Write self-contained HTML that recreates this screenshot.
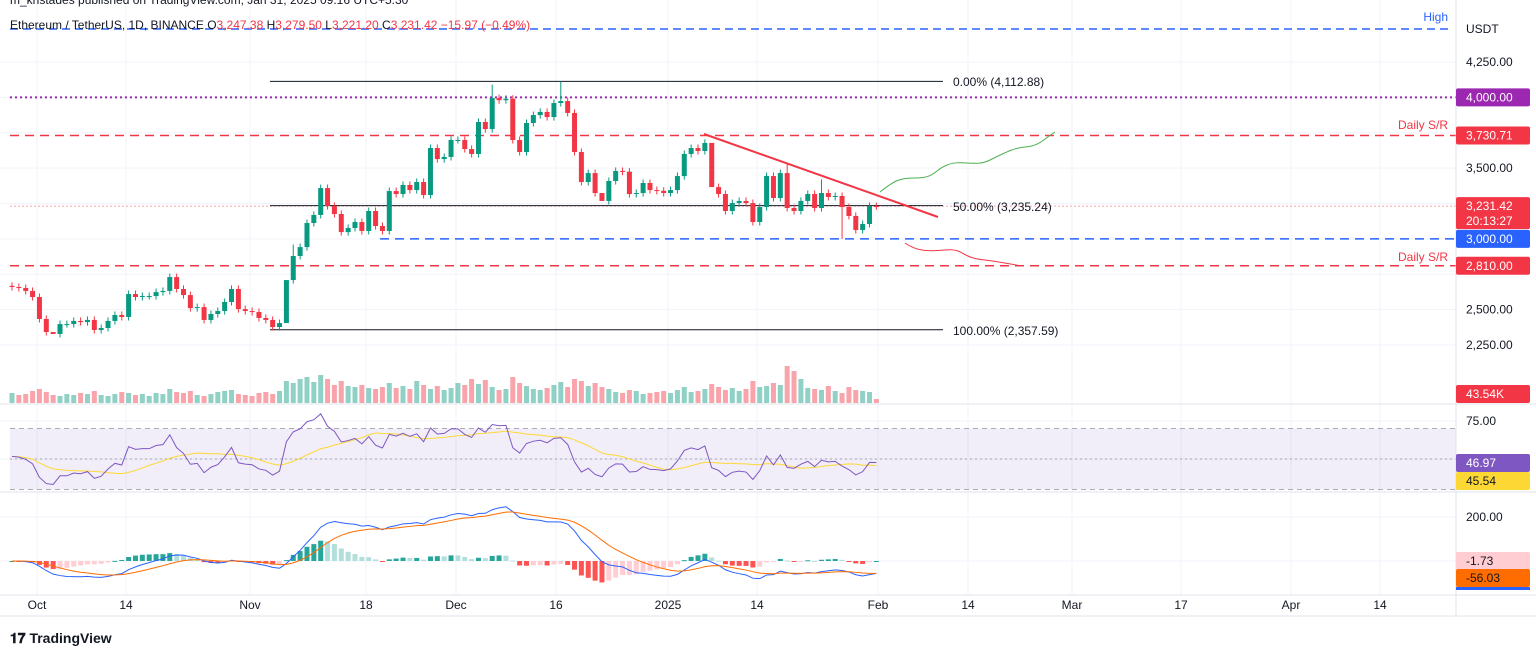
<!DOCTYPE html>
<html><head><meta charset="utf-8"><style>
body{margin:0;background:#fff;font-family:"Liberation Sans",sans-serif}
svg{display:block}
</style></head><body>
<svg id="c" width="1536" height="657" viewBox="0 0 1536 657" xmlns="http://www.w3.org/2000/svg" font-family="Liberation Sans, sans-serif">
<rect width="1536" height="657" fill="#fff"/>
<g id="grid"></g>
<g id="lv"></g>
<g id="vol"></g>
<g id="cnd"></g>
<g id="ov"></g>
<g id="rsi"></g>
<g id="macd"></g>
<g id="ax"></g>
<text x="10" y="4" font-size="12" fill="#131722">m_kristades published on TradingView.com, Jan 31, 2025 09:16 UTC+5:30</text>
<text x="10" y="29" font-size="12" fill="#131722">Ethereum / TetherUS, 1D, BINANCE <tspan fill="#131722">O</tspan><tspan fill="#f23645">3,247.38</tspan> H<tspan fill="#f23645">3,279.50</tspan> L<tspan fill="#f23645">3,221.20</tspan> C<tspan fill="#f23645">3,231.42 −15.97 (−0.49%)</tspan></text>
<text x="10" y="643" font-size="14" font-weight="bold" fill="#131722">𝟏𝟕 TradingView</text>
</svg>
<script>
const closes=[2660,2653,2632,2589,2434,2342,2328,2398,2398,2420,2412,2427,2356,2370,2420,2462,2448,2610,2589,2596,2596,2624,2632,2730,2646,2603,2511,2518,2427,2469,2490,2554,2646,2504,2490,2483,2441,2427,2377,2405,2709,2879,2942,
3112,3169,3359,3232,3176,3048,3077,3119,3056,3197,3091,3056,3338,3317,3381,3345,3402,3310,3642,3564,3579,3699,3699,3635,3600,3826,3776,3995,3980,3990,3699,3614,3819,3875,3897,3861,3960,3974,3890,3614,3402,3465,
3324,3268,3409,3480,3475,3317,3324,3395,3345,3340,3324,3345,3444,3600,3642,3621,3678,3366,3317,3197,3253,3268,3253,3119,3225,3444,3289,3465,3218,3197,3268,3317,3218,3324,3296,3303,3225,3162,3063,3105,3232,3231];
const volumes=[10,8,9,12,14,11,8,7,9,8,10,9,12,8,7,9,11,10,8,9,7,10,9,14,11,10,12,8,7,9,11,12,13,9,8,7,10,11,9,12,22,20,24,
26,21,28,24,18,22,17,16,18,15,14,16,20,15,17,14,22,18,14,17,13,15,20,18,24,19,23,16,13,14,26,20,17,14,13,15,18,21,16,24,22,17,
20,16,14,11,10,13,12,9,10,11,12,10,13,16,11,12,14,19,16,13,15,12,14,22,16,17,20,18,37,32,24,15,14,13,17,12,10,16,13,12,11,4];
const highOverrides={6:2307,40:2357,41:2960,70:4090,80:4112,86:3070,102:2907,113:3540,118:3420};
const lowOverrides={6:2307,40:2357,86:3070,102:2907,121:3000};
const timeLabels=[["Oct",37],["14",126],["Nov",250],["18",366],["Dec",456],["16",556],["2025",668],["14",757],["Feb",878],["14",968],["Mar",1072],["17",1181],["Apr",1291],["14",1380]];
const priceTicks=[4250,3500,2500,2250];

const NS="http://www.w3.org/2000/svg";
function mk(p,t,a){const e=document.createElementNS(NS,t);for(const k in a)e.setAttribute(k,a[k]);p.appendChild(e);return e;}
const X=i=>12+i*6.86;
const Y=p=>62+(4250-p)*0.1415;
const RY=r=>459-(r-50)*1.525;
const MY=v=>561-v*0.22;
const G=id=>document.getElementById(id);
const up="#089981",dn="#f23645";

const gg=G('grid');
timeLabels.forEach(t=>{const l=mk(gg,'line',{x1:t[1],x2:t[1],y1:0,y2:595,stroke:'#f0f3fa'});});
[4250,4000,3750,3500,3250,3000,2750,2500,2250].forEach(p=>{const l=mk(gg,'line',{x1:0,x2:1456,y1:Y(p),y2:Y(p),stroke:'#f0f3fa'});});
[421,459,517,561].forEach(y=>{const l=mk(gg,'line',{x1:0,x2:1456,y1:y,y2:y,stroke:'#f0f3fa'});});

const lv=G('lv');
function hl(y,x1,x2,col,dash,w,name){const l=mk(lv,'line',{x1:x1,x2:x2,y1:y,y2:y,stroke:col,'stroke-width':w,'stroke-dasharray':dash});}
hl(29,10,1452,'#2962ff','8 5',1.5,'high-line');
hl(Y(4000),10,1456,'#9c27b0','2 3',2,'level-4000');
hl(Y(3730.71),10,1456,'#f23645','9 6',1.5,'daily-sr-upper');
hl(Y(3231.42),10,1456,'#f7a0a8','2 2',1,'current-price-line');
hl(Y(3000),380,1456,'#2962ff','9 6',1.5,'level-3000');
hl(Y(2810),10,1456,'#f23645','9 6',1.5,'daily-sr-lower');
hl(Y(4112.88),270,943,'#131722','',1,'fib-0');
hl(Y(3235.24),270,943,'#131722','',1,'fib-50');
hl(Y(2357.59),270,943,'#131722','',1,'fib-100');
function tx(p,x,y,s,col,size,anchor,name,weight){const t=mk(p,'text',{x:x,y:y,fill:col,'font-size':size,'text-anchor':anchor||'start','font-weight':weight||'normal'});t.textContent=s;return t;}
tx(lv,953,86,'0.00% (4,112.88)','#131722',12,'start','fib-0-label');
tx(lv,953,211,'50.00% (3,235.24)','#131722',12,'start','fib-50-label');
tx(lv,953,335,'100.00% (2,357.59)','#131722',12,'start','fib-100-label');
tx(lv,1448,21,'High','#2962ff',12,'end','high-label');
tx(lv,1448,129,'Daily S/R','#f23645',12,'end','daily-sr-upper-label');
tx(lv,1448,261,'Daily S/R','#f23645',12,'end','daily-sr-lower-label');

const vg=G('vol');
closes.forEach((c,i)=>{const o=i?closes[i-1]:c;const h=volumes[i];const r=mk(vg,'rect',{x:X(i)-2.5,y:403-h,width:5,height:h,fill:c>=o?up:dn,opacity:0.45});});

const cg=G('cnd');
closes.forEach((c,i)=>{const o=i?closes[i-1]:c+8;const col=c>=o?up:dn;
 let hi=Math.max(o,c)+25,lo=Math.min(o,c)-25;if(highOverrides[i])hi=highOverrides[i];if(lowOverrides[i])lo=lowOverrides[i];
 const w=mk(cg,'line',{x1:X(i),x2:X(i),y1:Y(hi),y2:Y(lo),stroke:col,'stroke-width':1});
 const t=Y(Math.max(o,c)),b=Y(Math.min(o,c));const r=mk(cg,'rect',{x:X(i)-2.5,y:t,width:5,height:Math.max(1,b-t),fill:col});});

const ov=G('ov');
let e=mk(ov,'line',{x1:704,y1:134,x2:938,y2:217,stroke:'#f23645','stroke-width':2});
e=mk(ov,'path',{d:'M880 192 C895 180,900 178,915 178 C935 178,935 170,945 166 C960 158,975 168,990 160 C1010 150,1015 148,1025 147 C1040 146,1045 138,1055 132',fill:'none',stroke:'#4caf50','stroke-width':1});
e=mk(ov,'path',{d:'M905 243 C915 250,925 252,945 250 C965 248,960 258,985 260 C1000 262,1010 264,1022 266',fill:'none',stroke:'#f23645','stroke-width':1});

const rg=G('rsi');
e=mk(rg,'rect',{x:10,y:RY(70),width:1446,height:RY(30)-RY(70),fill:'#7e57c2','fill-opacity':0.1});
[70,50,30].forEach(v=>{const l=mk(rg,'line',{x1:10,x2:1456,y1:RY(v),y2:RY(v),stroke:'#787b86','stroke-dasharray':v==50?'2 3':'5 4','stroke-opacity':0.6});});
let ag=30,al=28;const rsi=[];
closes.forEach((c,i)=>{if(i>0){const d=c-closes[i-1];const g=Math.max(d,0),l=Math.max(-d,0);ag=(ag*13+g)/14;al=(al*13+l)/14;}rsi.push(al==0?100:100-100/(1+ag/al));});
const rma=rsi.map((v,i)=>{const s=rsi.slice(Math.max(0,i-13),i+1);return s.reduce((a,b)=>a+b,0)/s.length;});
function poly(p,arr,fy,col,name,w){const pts=arr.map((v,i)=>X(i)+','+fy(v)).join(' ');const l=mk(p,'polyline',{points:pts,fill:'none',stroke:col,'stroke-width':w||1});}
poly(rg,rma,RY,'#fdd835','rsi-ma');
poly(rg,rsi,RY,'#7e57c2','rsi-line');

const mg=G('macd');
function ema(a,n){const k=2/(n+1);const o=[];a.forEach((v,i)=>o.push(i?v*k+o[i-1]*(1-k):v));return o;}
const e12=ema(closes,12),e26=ema(closes,26);const macd=e12.map((v,i)=>v-e26[i]);const sig=ema(macd,9);
macd.forEach((m,i)=>{const h=m-sig[i];const ph=i?macd[i-1]-sig[i-1]:h;const col=h>=0?(h>=ph?'#26a69a':'#b2dfdb'):(h<ph?'#ff5252':'#ffcdd2');
 const y0=MY(0),y1=MY(h);const r=mk(mg,'rect',{x:X(i)-2.5,y:Math.min(y0,y1),width:5,height:Math.max(1,Math.abs(y1-y0)),fill:col});});
poly(mg,macd,MY,'#2962ff','macd-line');
poly(mg,sig,MY,'#ff6d00','signal-line');

const ax=G('ax');
[[404],[492],[595]].forEach(a=>{const l=mk(ax,'line',{x1:0,x2:1536,y1:a[0],y2:a[0],stroke:'#e0e3eb'});});
e=mk(ax,'line',{x1:1456,x2:1456,y1:0,y2:616,stroke:'#e0e3eb'});
e=mk(ax,'line',{x1:0,x2:1536,y1:616,y2:616,stroke:'#e0e3eb'});
tx(ax,1466,33,'USDT','#131722',12,'start','currency-label');
priceTicks.forEach(p=>{tx(ax,1466,Y(p)+4,p.toLocaleString('en-US',{minimumFractionDigits:2}),'#131722',12,'start','price-tick');});
tx(ax,1466,425,'75.00','#131722',12,'start','rsi-tick');
tx(ax,1466,521,'200.00','#131722',12,'start','macd-tick');
function badge(y,s,bg,fg,name){const r=mk(ax,'rect',{x:1456,y:y-9,width:74,height:18,rx:2,fill:bg});tx(ax,1466,y+4,s,fg,12,'start',name+'-text');}
badge(Y(4000),'4,000.00','#9c27b0','#fff','badge-4000');
badge(Y(3730.71),'3,730.71','#f23645','#fff','badge-3730');
const rr=mk(ax,'rect',{x:1456,y:Y(3231.42)-9,width:74,height:32,rx:2,fill:'#f23645'});
tx(ax,1466,Y(3231.42)+4,'3,231.42','#fff',12,'start','last-price-text');
tx(ax,1466,Y(3231.42)+19,'20:13:27','#fff',12,'start','countdown-text');
badge(Y(3000),'3,000.00','#2962ff','#fff','badge-3000');
badge(Y(2810),'2,810.00','#f23645','#fff','badge-2810');
badge(394,'43.54K','#f23645','#fff','badge-volume');
badge(463,'46.97','#7e57c2','#fff','badge-rsi');
badge(481,'45.54','#fdd835','#131722','badge-rsi-ma');
badge(561,'-1.73','#ffcdd2','#131722','badge-histogram');
badge(578,'-56.03','#ff6d00','#131722','badge-signal');
e=mk(ax,'rect',{x:1456,y:587,width:74,height:3,fill:'#2962ff'});
timeLabels.forEach(t=>{tx(ax,t[1],609,t[0],'#131722',12,'middle','time-tick');});
</script>
</body></html>
